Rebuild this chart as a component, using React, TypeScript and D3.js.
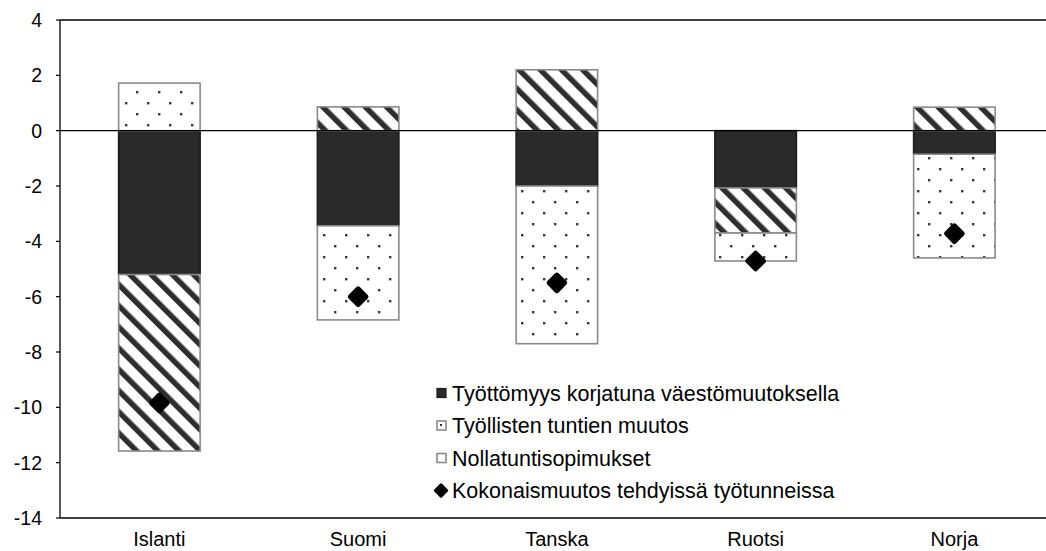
import React from "react";
import * as d3 from "d3";

const categories = ["Islanti", "Suomi", "Tanska", "Ruotsi", "Norja"];
const unemployment = [-5.2, -3.44, -2.0, -2.07, -0.85];
const hoursChange = [-6.38, 0.86, 2.2, -1.63, 0.85];
const zeroHour = [1.72, -3.4, -5.7, -1.01, -3.75];
const totalChange = [-9.84, -6.0, -5.5, -4.71, -3.72];
const yTicks = [4, 2, 0, -2, -4, -6, -8, -10, -12, -14];
const seriesNames = [
  "Työttömyys korjatuna väestömuutoksella",
  "Työllisten tuntien muutos",
  "Nollatuntisopimukset",
  "Kokonaismuutos tehdyissä työtunneissa",
];

const W = 1046;
const H = 551;
const M = { left: 60, top: 20, bottom: 518 };
const FONT = "'Liberation Sans', Arial, Helvetica, sans-serif";

export default function App() {
  const x = d3
    .scaleBand<string>()
    .domain(categories)
    .range([M.left, M.left + 5 * 198.75])
    .paddingInner(0.59)
    .paddingOuter(0.295);
  const y = d3.scaleLinear().domain([-14, 4]).range([M.bottom, M.top]);

  const rows = categories.map((c, i) => ({
    cat: c,
    u: unemployment[i],
    h: hoursChange[i],
    z: zeroHour[i],
  }));
  const keys = ["u", "h", "z"];
  const stacked = d3
    .stack<any>()
    .keys(keys)
    .offset(d3.stackOffsetDiverging)(rows);

  const fills = ["#2a2a2a", "url(#hatch)", "url(#dots)"];
  const strokes = ["#1c1c1c", "#8a8a8a", "#8a8a8a"];

  const bw = x.bandwidth();
  const diamondSide = 16;

  return (
    <svg width={W} height={H} style={{ position: "absolute", left: 0, top: 0 }}>
      <defs>
        <pattern
          id="hatch"
          patternUnits="userSpaceOnUse"
          width={15}
          height={15}
          patternTransform="rotate(-45)"
        >
          <rect x={0} y={0} width={15} height={15} fill="#fff" />
          <rect x={0} y={0} width={5.5} height={15} fill="#2e2e2e" />
        </pattern>
        <pattern id="dots" patternUnits="userSpaceOnUse" width={22} height={22} x={4} y={3}>
          <rect x={0} y={0} width={22} height={22} fill="#fff" />
          <rect x={0} y={0} width={2.4} height={2.4} fill="#3a3a3a" />
          <rect x={11} y={11} width={2.4} height={2.4} fill="#3a3a3a" />
        </pattern>
        <pattern id="legHatch" patternUnits="userSpaceOnUse" width={4} height={4}>
          <rect width={4} height={4} fill="#fff" />
          <rect width={2} height={2} fill="#333" />
        </pattern>
      </defs>
      <rect width={W} height={H} fill="#fff" />

      {/* bars */}
      {stacked.map((s, si) =>
        s.map((d, i) => {
          const y0 = y(Math.max(d[0], d[1]));
          const y1 = y(Math.min(d[0], d[1]));
          if (Math.abs(d[1] - d[0]) < 1e-9) return null;
          return (
            <rect
              key={`${si}-${i}`}
              x={x(categories[i])!}
              y={y0}
              width={bw}
              height={y1 - y0}
              fill={fills[si]}
              stroke={strokes[si]}
              strokeWidth={1.6}
            />
          );
        })
      )}

      {/* axes lines */}
      <line x1={M.left} x2={W} y1={M.top} y2={M.top} stroke="#000" strokeWidth={1.3} />
      <line x1={M.left} x2={W} y1={M.bottom} y2={M.bottom} stroke="#000" strokeWidth={1.3} />
      <line x1={M.left} x2={W} y1={y(0)} y2={y(0)} stroke="#000" strokeWidth={1.3} />
      <line x1={M.left} x2={M.left} y1={M.top} y2={M.bottom} stroke="#000" strokeWidth={1.3} />
      {yTicks.map((t) => (
        <g key={t}>
          <line x1={M.left - 4} x2={M.left} y1={y(t)} y2={y(t)} stroke="#000" strokeWidth={1.2} />
          <text
            x={42}
            y={y(t)}
            dy="0.36em"
            textAnchor="end"
            fontFamily={FONT}
            fontSize={19.5}
            fill="#000"
          >
            {t}
          </text>
        </g>
      ))}
      {categories.map((c) => (
        <text
          key={c}
          x={x(c)! + bw / 2}
          y={546}
          textAnchor="middle"
          fontFamily={FONT}
          fontSize={20}
          fill="#000"
        >
          {c}
        </text>
      ))}

      {/* diamonds */}
      {totalChange.map((v, i) => (
        <rect
          key={i}
          x={-diamondSide / 2}
          y={-diamondSide / 2}
          width={diamondSide}
          height={diamondSide}
          rx={2.5}
          fill="#000"
          transform={`translate(${x(categories[i])! + bw / 2},${y(v)}) rotate(45)`}
        />
      ))}

      {/* legend */}
      <g fontFamily={FONT} fontSize={21.5} fill="#000">
        {seriesNames.map((n, i) => {
          const cy = 393 + i * 32.5;
          let marker;
          if (i === 0)
            marker = <rect x={437} y={cy - 4.5} width={9} height={9} fill="#2a2a2a" stroke="#1c1c1c" strokeWidth={1.2} />;
          else if (i === 1)
            marker = (
              <g>
                <rect x={437} y={cy - 4.5} width={9} height={9} fill="#fff" stroke="#8a8a8a" strokeWidth={1.6} />
                <rect x={439.5} y={cy - 2} width={4} height={4} fill="url(#legHatch)" />
              </g>
            );
          else if (i === 2)
            marker = <rect x={437} y={cy - 4.5} width={9} height={9} fill="#fff" stroke="#8a8a8a" strokeWidth={1.6} />;
          else
            marker = (
              <rect
                x={-5.5}
                y={-5.5}
                width={11}
                height={11}
                rx={1.5}
                fill="#000"
                transform={`translate(${441},${cy}) rotate(45)`}
              />
            );
          return (
            <g key={n}>
              {marker}
              <text x={452} y={cy} dy="0.36em">
                {n}
              </text>
            </g>
          );
        })}
      </g>
    </svg>
  );
}
